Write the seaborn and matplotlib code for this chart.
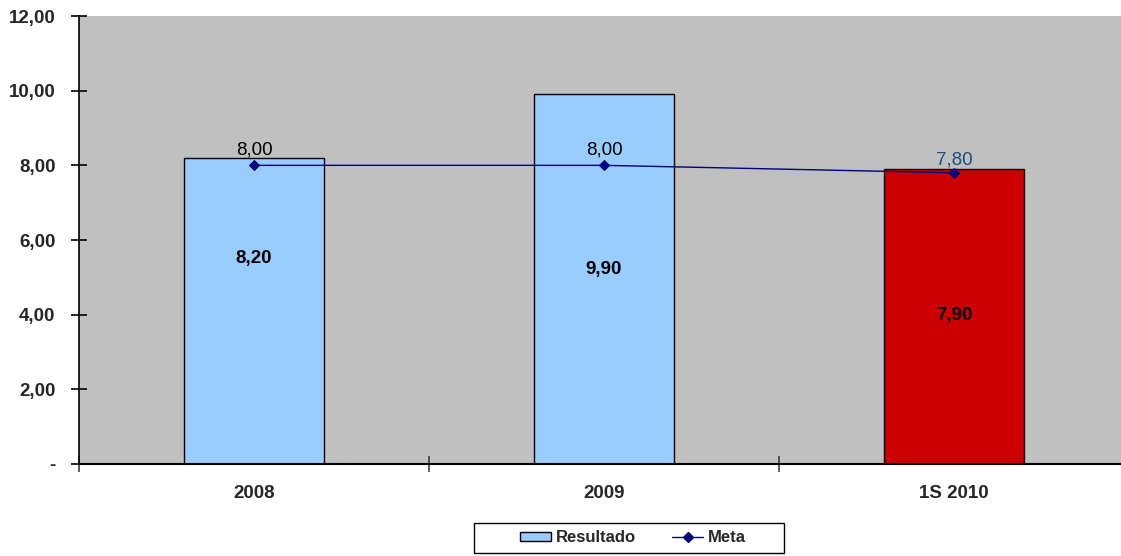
import matplotlib
matplotlib.use("Agg")
import matplotlib.pyplot as plt
from matplotlib.patches import Patch, Rectangle
from matplotlib.lines import Line2D
import seaborn as sns
import pandas as pd

categorias = ["2008", "2009", "1S 2010"]
resultado = [8.20, 9.90, 7.90]
meta = [8.00, 8.00, 7.80]
cores_barras = ["#99CCFF", "#99CCFF", "#CC0000"]
yticks = [0, 2, 4, 6, 8, 10, 12]
ytick_labels = ["-", "2,00", "4,00", "6,00", "8,00", "10,00", "12,00"]

sns.set_theme(style="white")
plt.rcParams["font.family"] = ["Liberation Sans", "DejaVu Sans"]

fig = plt.figure(figsize=(11.21, 5.56), dpi=100)
ax = fig.add_axes([79 / 1121, 1 - 464 / 556, 1050 / 1121, 448 / 556])
ax.set_facecolor("#C0C0C0")

df = pd.DataFrame({"cat": categorias, "res": resultado})
sns.barplot(data=df, x="cat", y="res", hue="cat", palette=cores_barras,
            legend=False, width=0.4, edgecolor="black", linewidth=1.0,
            saturation=1, ax=ax, zorder=2)

pos = list(range(len(categorias)))
sns.lineplot(x=pos, y=meta, color="#000080", linewidth=1.0, marker="D",
             markersize=5.5, markeredgecolor="#000080", sort=False, ax=ax,
             zorder=3)

# value labels inside the bars
bar_label_y = [5.5, 5.22, 3.99]
for i, v in enumerate(resultado):
    ax.text(i, bar_label_y[i], f"{v:.2f}".replace(".", ","), ha="center",
            va="center", fontsize=13.5, fontweight="bold", color="black",
            zorder=4)

# target labels above the markers
meta_cores = ["black", "black", "#1F4E79"]
meta_offset = [0.42, 0.42, 0.33]
for i, v in enumerate(meta):
    ax.text(i, v + meta_offset[i], f"{v:.2f}".replace(".", ","), ha="center",
            va="center", fontsize=13.5, color=meta_cores[i], zorder=4)

ax.set_xlim(-0.5, 2.5)
ax.set_ylim(0, 12)
ax.set_yticks(yticks)
ax.set_yticklabels(ytick_labels, fontsize=13.5, fontweight="bold")
ax.set_xticks([-0.5, 0.5, 1.5, 2.5])
ax.set_xticklabels([])
for i, c in enumerate(categorias):
    ax.text(i, -0.8, c, ha="center", va="center", fontsize=13.5,
            fontweight="bold", transform=ax.transData)
ax.tick_params(axis="y", direction="inout", length=12, width=1.2,
               color="black", pad=11, left=True)
ax.tick_params(axis="x", direction="inout", length=12, width=1.2,
               color="#404040", bottom=True)
ax.set_xlabel("")
ax.set_ylabel("")

for s in ["top", "right"]:
    ax.spines[s].set_visible(False)
ax.spines["left"].set_color("black")
ax.spines["left"].set_linewidth(1.2)
ax.spines["bottom"].set_color("black")
ax.spines["bottom"].set_linewidth(1.5)

handles = [
    Patch(facecolor="#99CCFF", edgecolor="black", linewidth=1.0, label="Resultado"),
    Line2D([0], [0], color="#000080", linewidth=1.0, marker="D", markersize=5.5,
           label="Meta"),
]
leg = fig.legend(handles=handles, loc="center", ncol=2,
                 bbox_to_anchor=(633 / 1121, 1 - 538 / 556),
                 frameon=False, prop={"weight": "bold", "size": 12},
                 handlelength=1.85, handleheight=0.5, columnspacing=2.2,
                 borderpad=0.2, handletextpad=0.3)

# legend frame
fig.patches.append(Rectangle((474 / 1121, 1 - 553 / 556), 310 / 1121, 30 / 556,
                             transform=fig.transFigure, fill=False,
                             edgecolor="black", linewidth=1.0))

fig.savefig("out.png", dpi=100)
